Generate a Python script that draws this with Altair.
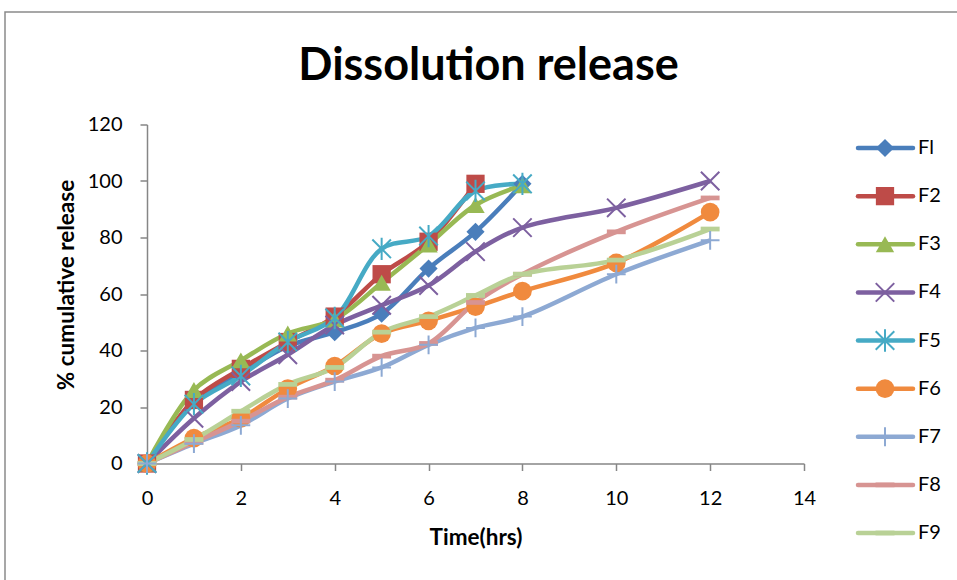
import altair as alt
import pandas as pd

# ---- data ----
time = [0, 1, 2, 3, 4, 5, 6, 7, 8, 10, 12]
series_names = ["Fl", "F2", "F3", "F4", "F5", "F6", "F7", "F8", "F9"]
f1 = [0, 22, 32, 41.5, 46.5, 53, 69, 82, 99]
f2 = [0, 22.5, 33.5, 43, 52, 67, 78.5, 99]
f3 = [0, 26, 36.5, 46, 51, 64, 77.5, 91.5, 98.5]
f4 = [0, 16, 29, 38.5, 49, 56, 63, 75, 83.5, 90.5, 100]
f5 = [0, 21, 31, 43, 51.5, 76, 80.5, 96.5, 99]
f6 = [0, 9, 16, 26.5, 34.5, 46, 50.5, 55.5, 61, 71, 89]
f7 = [0, 7, 13.5, 23, 29, 34, 42, 48, 52, 67, 79]
f8 = [0, 7.5, 15, 23.5, 29.5, 38, 42.5, 57, 67, 82, 94]
f9 = [0, 8.5, 18.5, 28, 34, 46.5, 52, 59.5, 67, 72, 83]
all_values = [f1, f2, f3, f4, f5, f6, f7, f8, f9]

x_ticks = [0, 2, 4, 6, 8, 10, 12, 14]
y_ticks = [0, 20, 40, 60, 80, 100, 120]

colors = ["#4A7EBB", "#BE4B48", "#98B954", "#7D60A0", "#46AAC5",
          "#F08A3E", "#8DA9D3", "#D79492", "#B9D196"]
X_PATH = "M-1,-1L1,1M-1,1L1,-1"
AST_PATH = "M-1,-1L1,1M-1,1L1,-1M0,-1.2L0,1.2"
PLUS_PATH = "M0,-1L0,1M-1,0L1,0"
DASH_PATH = "M-1,-0.25L1,-0.25L1,0.25L-1,0.25Z"
shapes = ["diamond", "square", "triangle-up", X_PATH, AST_PATH,
          "circle", PLUS_PATH, DASH_PATH, DASH_PATH]
sizes = [330, 360, 330, 360, 360, 400, 340, 340, 340]
filled_names = ["Fl", "F2", "F3", "F6", "F8", "F9"]
stroked_names = ["F4", "F5", "F7"]

rows = []
for name, vals in zip(series_names, all_values):
    for t, v in zip(time, vals):
        rows.append({"series": name, "time": t, "pct": v})
df = pd.DataFrame(rows)
legend_df = pd.DataFrame({"series": series_names})

FONT = "Lato"
GRAY = "#868686"

color_enc = alt.Color("series:N", scale=alt.Scale(domain=series_names, range=colors), legend=None)
shape_enc = alt.Shape("series:N", scale=alt.Scale(domain=series_names, range=shapes), legend=None)
size_enc = alt.Size("series:N", scale=alt.Scale(domain=series_names, range=sizes), legend=None)

x_enc = alt.X("time:Q", scale=alt.Scale(domain=[0, 14], nice=False, zero=False),
              axis=alt.Axis(values=x_ticks, title="Time(hrs)", labelPadding=18,
                            labelFlush=False, titleY=81, titleBaseline="alphabetic"))
y_enc = alt.Y("pct:Q", scale=alt.Scale(domain=[0, 120], nice=False),
              axis=alt.Axis(values=y_ticks, title="% cumulative release", labelPadding=18,
                            labelFlush=False, titleX=-74, titleY=160,
                            titleBaseline="alphabetic"))

base = alt.Chart(df)
lines = base.mark_line(interpolate="catmull-rom", strokeWidth=4.5).encode(
    x=x_enc, y=y_enc, color=color_enc)
pts_filled = base.transform_filter(
    alt.FieldOneOfPredicate(field="series", oneOf=filled_names)
).mark_point(filled=True, opacity=1).encode(
    x=x_enc, y=y_enc, color=color_enc, shape=shape_enc, size=size_enc)
pts_stroked = base.transform_filter(
    alt.FieldOneOfPredicate(field="series", oneOf=stroked_names)
).mark_point(filled=False, opacity=1, strokeWidth=2).encode(
    x=x_enc, y=y_enc, color=color_enc, shape=shape_enc, size=size_enc)
main = alt.layer(lines, pts_filled, pts_stroked)

# ---- custom legend (line + marker) ----
leg_y = alt.Y("series:N", scale=alt.Scale(type="point", domain=series_names,
                                          range=[23.5, 408.5], padding=0), axis=None)
leg_base = alt.Chart(legend_df)
leg_rule = leg_base.mark_rule(strokeWidth=4.5, strokeCap="round").encode(
    x=alt.value(711), x2=alt.value(766), y=leg_y, color=color_enc)
leg_filled = leg_base.transform_filter(
    alt.FieldOneOfPredicate(field="series", oneOf=filled_names)
).mark_point(filled=True, opacity=1).encode(
    x=alt.value(738), y=leg_y, color=color_enc, shape=shape_enc, size=size_enc)
leg_stroked = leg_base.transform_filter(
    alt.FieldOneOfPredicate(field="series", oneOf=stroked_names)
).mark_point(filled=False, opacity=1, strokeWidth=2).encode(
    x=alt.value(738), y=leg_y, color=color_enc, shape=shape_enc, size=size_enc)
leg_text = leg_base.mark_text(align="left", baseline="middle", font=FONT,
                              fontSize=20, color="black").encode(
    x=alt.value(771), y=leg_y, text="series:N")
legend = alt.layer(leg_rule, leg_filled, leg_stroked, leg_text)

# outer chart-area border
border = alt.Chart(pd.DataFrame({"k": [0]})).mark_rect(
    fillOpacity=0, stroke="#8a8a8a", strokeWidth=1.5).encode(
    x=alt.value(-142), x2=alt.value(820), y=alt.value(-112.5), y2=alt.value(480))

chart = alt.layer(border, main, legend).resolve_scale(y="independent").properties(
    width=657, height=339,
    autosize=alt.AutoSizeParams(type="none"),
    padding={"left": 147, "top": 124.5, "right": 153, "bottom": 116.5},
    title=alt.TitleParams("Dissolution release", font=FONT, fontSize=45,
                          fontWeight="bold", color="black", anchor="middle",
                          frame="group", dx=13, offset=-78),
    background="white",
).configure_view(stroke=None).configure_axis(
    domainColor=GRAY, domainWidth=1.5, tickColor=GRAY, tickWidth=1.5, tickSize=7,
    grid=False, labelFont=FONT, labelFontSize=20, labelColor="black",
    titleFont=FONT, titleFontSize=22.5, titleFontWeight="bold", titleColor="black",
)

chart.save("out.html", embed_options={"renderer": "svg", "actions": False})
